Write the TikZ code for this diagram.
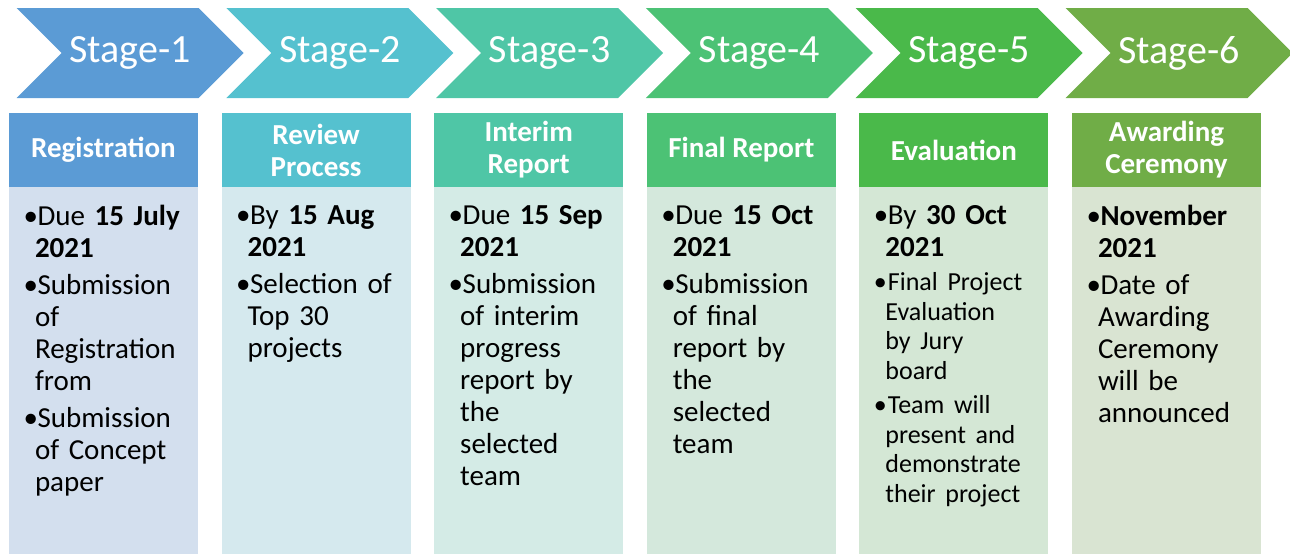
\documentclass[tikz,border=0pt]{standalone}
\usepackage{fontspec}
\setmainfont{Carlito}
\usetikzlibrary{positioning,shapes.symbols}
\definecolor{stA}{HTML}{5B9BD5}
\definecolor{stB}{HTML}{55C1CF}
\definecolor{stC}{HTML}{4FC6A6}
\definecolor{stD}{HTML}{4CC275}
\definecolor{stE}{HTML}{4AB94A}
\definecolor{stF}{HTML}{70AD47}
\definecolor{bdA}{HTML}{D3DFEE}
\definecolor{bdB}{HTML}{D5E9EE}
\definecolor{bdC}{HTML}{D4EBE6}
\definecolor{bdD}{HTML}{D4E8DC}
\definecolor{bdE}{HTML}{D4E7D5}
\definecolor{bdF}{HTML}{D9E4D2}
\newcommand\bul{\makebox[14pt][l]{\textbullet}}
\newcommand\nl{\hfil\break}
\newcommand\itm[1]{\hangindent=11.5pt\hangafter=1\noindent\bul #1\par}
\begin{document}
\begin{tikzpicture}[x=1pt, y=-1pt,
	chev/.style = {signal, signal from=west, signal to=east, signal pointer angle=90, minimum width=227pt, minimum height=90pt, inner sep=0pt, text=white, font=\fontsize{40}{48}\selectfont},
	head/.style = {minimum width=189pt, minimum height=74pt, inner sep=0pt, text=white, align=center, font=\bfseries\fontsize{29}{32}\selectfont},
	body/.style = {minimum width=189pt, minimum height=367pt, inner sep=0pt},
	txt/.style = {inner sep=0pt, text width=180pt, font=\fontsize{29}{32}\selectfont}]
	\useasboundingbox (0,0) rectangle (1290,554);
	% stage arrows
	\node[chev, fill=stA] (chA) at (130,53) {Stage-1};
	\node[chev, fill=stB] (chB) at ([xshift=209.8pt]chA.center) {Stage-2};
	\node[chev, fill=stC] (chC) at ([xshift=209.8pt]chB.center) {Stage-3};
	\node[chev, fill=stD] (chD) at ([xshift=209.8pt]chC.center) {Stage-4};
	\node[chev, fill=stE] (chE) at ([xshift=209.8pt]chD.center) {Stage-5};
	\node[chev, fill=stF] (chF) at ([xshift=209.8pt]chE.center) {Stage-6};
	% headers
	\node[head, fill=stA] (hdA) at (103.5,150) {Registration};
	\node[head, fill=stB] (hdB) [right=23.2pt of hdA] {Review\\Process};
	\node[head, fill=stC] (hdC) [right=23.2pt of hdB] {Interim\\Report};
	\node[head, fill=stD] (hdD) [right=23.2pt of hdC] {Final Report};
	\node[head, fill=stE] (hdE) [right=23.2pt of hdD] {Evaluation};
	\node[head, fill=stF] (hdF) [right=23.2pt of hdE] {Awarding\\Ceremony};
	% bodies
	\node[body, fill=bdA] (bdA) [below=0pt of hdA] {};
	\node[body, fill=bdB] (bdB) [below=0pt of hdB] {};
	\node[body, fill=bdC] (bdC) [below=0pt of hdC] {};
	\node[body, fill=bdD] (bdD) [below=0pt of hdD] {};
	\node[body, fill=bdE] (bdE) [below=0pt of hdE] {};
	\node[body, fill=bdF] (bdF) [below=0pt of hdF] {};
	% texts
	\node[txt] (txA) [below right=18pt and 14.5pt of bdA.north west] {\raggedright\parskip=5pt\relax%
		\itm{Due \textbf{15 July}\nl\textbf{2021}}\itm{Submission\nl of\nl Registration\nl from}\itm{Submission\nl of Concept\nl paper}};
	\node[txt] (txB) [below right=18pt and 14.5pt of bdB.north west] {\raggedright\parskip=5pt\relax%
		\itm{By \textbf{15 Aug}\nl\textbf{2021}}\itm{Selection of\nl Top 30\nl projects}};
	\node[txt] (txC) [below right=18pt and 14.5pt of bdC.north west] {\raggedright\parskip=5pt\relax%
		\itm{Due \textbf{15 Sep}\nl\textbf{2021}}\itm{Submission\nl of interim\nl progress\nl report by\nl the\nl selected\nl team}};
	\node[txt] (txD) [below right=18pt and 14.5pt of bdD.north west] {\raggedright\parskip=5pt\relax%
		\itm{Due \textbf{15 Oct}\nl\textbf{2021}}\itm{Submission\nl of final\nl report by\nl the\nl selected\nl team}};
	\node[txt] (txE) [below right=18pt and 14.5pt of bdE.north west] {\raggedright\parskip=5pt\relax%
		\itm{By \textbf{30 Oct}\nl\textbf{2021}}%
		{\fontsize{26}{29.5}\selectfont\itm{Final Project\nl Evaluation\nl by Jury\nl board}\itm{Team will\nl present and\nl demonstrate\nl their project}}};
	\node[txt] (txF) [below right=18pt and 14.5pt of bdF.north west] {\raggedright\parskip=5pt\relax%
		\itm{\textbf{November}\nl\textbf{2021}}\itm{Date of\nl Awarding\nl Ceremony\nl will be\nl announced}};
\end{tikzpicture}
\end{document}
